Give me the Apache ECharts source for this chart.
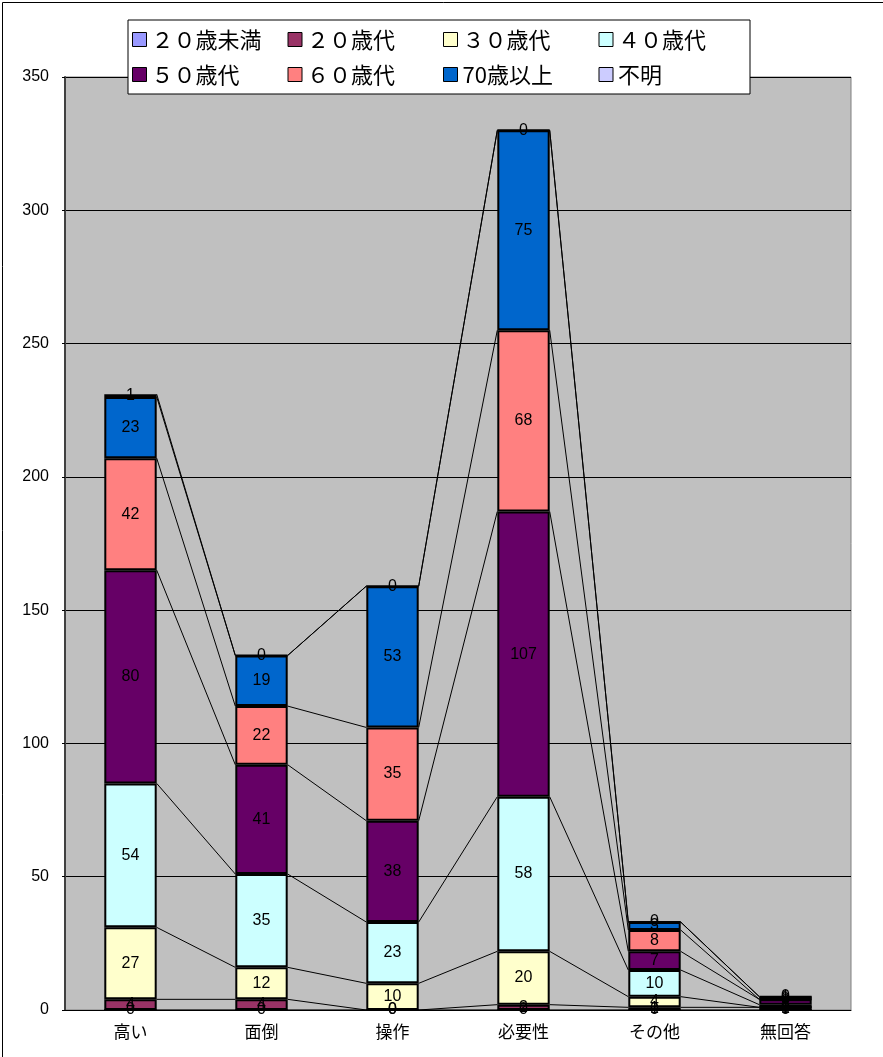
<!DOCTYPE html>
<html><head><meta charset="utf-8">
<script src="https://cdn.jsdelivr.net/npm/echarts@6/dist/echarts.min.js"></script>
<style>html,body{margin:0;padding:0;background:#fff}#c{width:883px;height:1057px}</style>
</head><body><div id="c"></div>
<script>
const categories = ['高い', '面倒', '操作', '必要性', 'その他', '無回答'];
const seriesNames = ['２０歳未満', '２０歳代', '３０歳代', '４０歳代', '５０歳代', '６０歳代', '70歳以上', '不明'];
const under20 = [0, 0, 0, 0, 0, 0];
const age20s = [4, 4, 0, 2, 1, 1];
const age30s = [27, 12, 10, 20, 4, 0];
const age40s = [54, 35, 23, 58, 10, 1];
const age50s = [80, 41, 38, 107, 7, 2];
const age60s = [42, 22, 35, 68, 8, 0];
const age70plus = [23, 19, 53, 75, 3, 1];
const unknown = [1, 0, 0, 0, 0, 0];
const colors = ['#9999FF', '#993366', '#FFFFCC', '#CCFFFF', '#660066', '#FF8080', '#0066CC', '#CCCCFF'];
const yTicks = [0, 50, 100, 150, 200, 250, 300, 350];

const allData = [under20, age20s, age30s, age40s, age50s, age60s, age70plus, unknown];
const FONT = '"Liberation Sans", Arial, sans-serif';
const JFONT = '"Noto Sans CJK JP", sans-serif';

// cumulative tops for series lines
const cum = [];
let running = categories.map(() => 0);
allData.forEach(arr => {
  running = running.map((r, i) => r + arr[i]);
  cum.push(running.slice());
});
const lineData = [];
cum.forEach(c => {
  for (let i = 0; i < categories.length - 1; i++) lineData.push([i, c[i], c[i + 1]]);
});

const series = allData.map((arr, k) => ({
  name: seriesNames[k],
  type: 'bar',
  stack: 'total',
  barWidth: '40%',
  data: arr,
  itemStyle: { color: colors[k], borderColor: '#000', borderWidth: 2 },
  label: { show: true, position: 'inside', color: '#000', fontSize: 16, fontFamily: FONT },
  emphasis: { disabled: true },
  z: 3
}));

series.push({
  type: 'custom',
  name: 'serieslines',
  data: lineData,
  z: 2,
  silent: true,
  renderItem: function (params, api) {
    const i = api.value(0);
    const p0 = api.coord([i, api.value(1)]);
    const p1 = api.coord([i + 1, api.value(2)]);
    const half = api.size([1, 0])[0] * 0.2;
    return {
      type: 'line',
      shape: { x1: p0[0] + half, y1: p0[1], x2: p1[0] - half, y2: p1[1] },
      style: { stroke: '#000', lineWidth: 1 }
    };
  }
});

const chart = echarts.init(document.getElementById('c'), null, { renderer: 'canvas' });
chart.setOption({
  animation: false,
  backgroundColor: '#fff',
  grid: { left: 65, right: 32, top: 77, bottom: 47, show: true, backgroundColor: '#C0C0C0', borderColor: '#808080', borderWidth: 1 },
  graphic: [{ type: 'rect', left: 0, top: 0, shape: { width: 882, height: 1056 }, style: { fill: null, stroke: '#000', lineWidth: 1 }, z: 100 }],
  legend: {
    data: seriesNames,
    left: 128, top: 20,
    width: 680,
    padding: [6, 4, 6, 4],
    backgroundColor: '#fff',
    borderColor: '#000', borderWidth: 1,
    itemWidth: 14, itemHeight: 14, itemGap: 8,
    icon: 'rect',
    itemStyle: { borderColor: '#000', borderWidth: 1 },
    textStyle: { fontSize: 22, fontFamily: JFONT, color: '#000', width: 128, lineHeight: 27, overflow: 'none' },
    z: 10
  },
  xAxis: {
    type: 'category',
    data: categories,
    axisLine: { lineStyle: { color: '#000', width: 1 } },
    axisTick: { inside: true, length: 5, lineStyle: { color: '#000' } },
    axisLabel: { color: '#000', fontSize: 17, fontFamily: JFONT, margin: 13 }
  },
  yAxis: {
    type: 'value', min: 0, max: 350, interval: 50,
    axisLine: { show: true, lineStyle: { color: '#404040', width: 2 } },
    axisTick: { show: true, length: 3, lineStyle: { color: '#000' } },
    axisLabel: { color: '#000', fontSize: 16, fontFamily: FONT, margin: 16,
      formatter: v => yTicks.includes(v) ? String(v) : '' },
    splitLine: { lineStyle: { color: '#000', width: 1 } }
  },
  series: series
});
</script></body></html>
